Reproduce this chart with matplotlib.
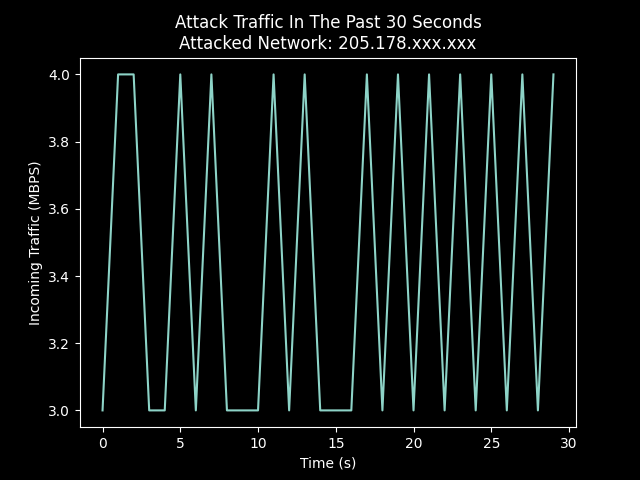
import matplotlib
matplotlib.use("Agg")
import matplotlib.pyplot as plt

# Seconds and traffic readings
seconds = list(range(30))
traffic = [3, 4, 4, 3, 3, 4, 3, 4, 3, 3,
           3, 4, 3, 4, 3, 3, 3, 4, 3, 4,
           3, 4, 3, 4, 3, 4, 3, 4, 3, 4]

plt.style.use("dark_background")
fig, ax = plt.subplots(figsize=(6.4, 4.8), dpi=100)
ax.plot(seconds, traffic)
ax.set_title("Attack Traffic In The Past 30 Seconds\nAttacked Network: 205.178.xxx.xxx")
ax.set_xlabel("Time (s)")
ax.set_ylabel("Incoming Traffic (MBPS)")
fig.savefig("out.png")
